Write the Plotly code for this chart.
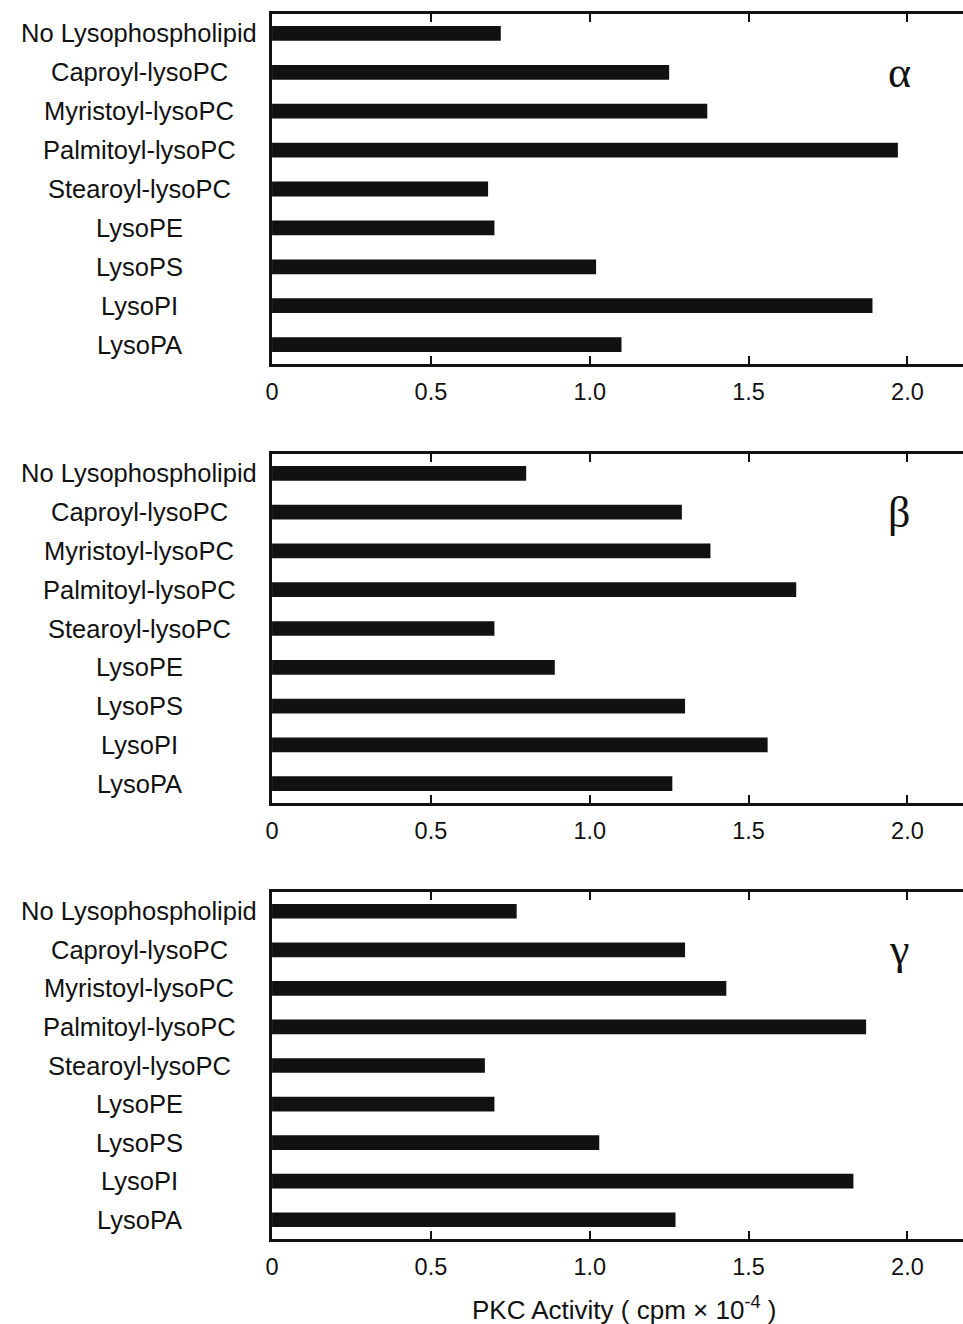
import plotly.graph_objects as go

# Lysophospholipid species tested (top to bottom in each panel)
categories = [
    "No Lysophospholipid",
    "Caproyl-lysoPC",
    "Myristoyl-lysoPC",
    "Palmitoyl-lysoPC",
    "Stearoyl-lysoPC",
    "LysoPE",
    "LysoPS",
    "LysoPI",
    "LysoPA",
]

# PKC activity (cpm x 10^-4) for each isozyme
alpha_vals = [0.72, 1.25, 1.37, 1.97, 0.68, 0.70, 1.02, 1.89, 1.10]
beta_vals = [0.80, 1.29, 1.38, 1.65, 0.70, 0.89, 1.30, 1.56, 1.26]
gamma_vals = [0.77, 1.30, 1.43, 1.87, 0.67, 0.70, 1.03, 1.83, 1.27]

isozymes = ["α", "β", "γ"]
panels = [alpha_vals, beta_vals, gamma_vals]

tick_vals = [0, 0.5, 1.0, 1.5, 2.0]
tick_text = ["0", "0.5", "1.0", "1.5", "2.0"]

W, H = 963, 1324
x_left_px = 267
# panel frames in pixel rows (top, bottom)
frames_px = [(14, 364), (454, 803), (892, 1239)]

sans = "Liberation Sans, Arial, sans-serif"
label_font = dict(family=sans, size=25.5, color="#111")

fig = go.Figure()
annotations = []

for i, (vals, iso) in enumerate(zip(panels, isozymes)):
    n = i + 1
    xa = "x" if n == 1 else f"x{n}"
    ya = "y" if n == 1 else f"y{n}"
    fig.add_trace(go.Bar(
        x=vals, y=categories, orientation="h",
        xaxis=xa, yaxis=ya,
        width=0.38,
        marker=dict(color="#111111", line=dict(width=0)),
        showlegend=False,
    ))
    top, bot = frames_px[i]
    dom = [1 - bot / H, 1 - top / H]
    xkey = "xaxis" if n == 1 else f"xaxis{n}"
    ykey = "yaxis" if n == 1 else f"yaxis{n}"
    fig.update_layout(**{
        xkey: dict(
            domain=[x_left_px / W, 1], anchor=ya,
            range=[0, (W - x_left_px) / 320],
            tickvals=tick_vals, ticktext=tick_text,
            ticks="inside", ticklen=8, tickwidth=2, tickcolor="#111",
            showline=True, linewidth=3, linecolor="#111", mirror="ticks",
            showgrid=False, zeroline=False,
            tickfont=dict(family=sans, size=23.5, color="#111"),
            ticklabelstandoff=5,
        ),
        ykey: dict(
            domain=dom, anchor=xa,
            categoryorder="array", categoryarray=categories,
            autorange="reversed",
            showline=True, linewidth=3, linecolor="#111",
            showticklabels=False, ticks="", showgrid=False, zeroline=False,
        ),
    })
    # category labels centred in the left column
    for c in categories:
        annotations.append(dict(
            x=133 / W, xref="paper", y=c, yref=ya,
            text=c, showarrow=False, xanchor="center", yanchor="middle",
            font=label_font,
        ))
    # isozyme marker
    annotations.append(dict(
        x=899 / W, xref="paper", y=categories[1], yref=ya,
        text=iso, showarrow=False, xanchor="center", yanchor="middle",
        font=dict(family="Liberation Serif, Times New Roman, serif", size=44, color="#111"),
    ))

annotations.append(dict(
    x=622 / W, xref="paper", y=1 - 1308 / H, yref="paper",
    text="PKC Activity ( cpm × 10<sup>-4</sup> )", showarrow=False,
    xanchor="center", yanchor="middle",
    font=dict(family=sans, size=26, color="#111"),
))

fig.update_layout(
    width=W, height=H,
    margin=dict(l=0, r=0, t=0, b=0),
    paper_bgcolor="white", plot_bgcolor="white",
    annotations=annotations,
)

fig.write_html("out.html")
